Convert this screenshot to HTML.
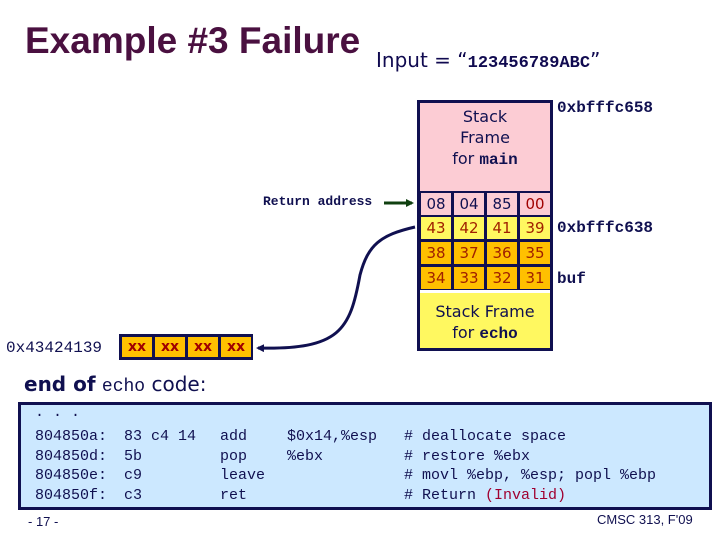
<!DOCTYPE html>
<html><head><style>
body{margin:0;width:720px;height:540px;background:#fff;position:relative;overflow:hidden;font-family:"Liberation Sans",sans-serif}
.a{position:absolute}
.mono{font-family:"Liberation Mono",monospace}
.serif{font-family:"Liberation Serif",serif}
.cell{position:absolute;width:30px;height:22px;text-align:center;font-size:15px;line-height:22px;font-family:"DejaVu Sans",sans-serif}
.cl{position:absolute;font-family:"Liberation Mono",monospace;font-size:15px;color:#101050;white-space:pre}
</style></head><body>
<div class="a" style="left:25px;top:20px;font-size:37px;font-weight:bold;color:#4a1040">Example #3 Failure</div>
<div class="a" style="left:376px;top:48px;font-size:20px;color:#100a50;font-family:'DejaVu Sans',sans-serif">Input = “<span class="mono" style="font-weight:bold;font-size:17px">123456789ABC</span>”</div>

<div class="a" style="left:417px;top:100px;width:130px;height:245px;border:3px solid #101050;background:#fff"></div>
<div class="a" style="left:420px;top:103px;width:130px;height:88px;background:#fcccd4;text-align:center;font-size:16px;line-height:21px;color:#101050;font-family:'DejaVu Sans',sans-serif;padding-top:3px;box-sizing:border-box">Stack<br>Frame<br>for <span class="mono" style="font-weight:bold">main</span></div>
<div class="a" style="left:420px;top:293px;width:130px;height:55px;background:#fff860;text-align:center;font-size:16px;line-height:21px;color:#101050;font-family:'DejaVu Sans',sans-serif;padding-top:8px;box-sizing:border-box">Stack Frame<br>for <span class="mono" style="font-weight:bold">echo</span></div>

<div id="cells"></div>
<script>
var rows=[[192,"#fcccd4",["08","04","85","00"],["#101050","#101050","#101050","#a00000"]],
[216,"#fff860",["43","42","41","39"],["#a02000","#a02000","#a02000","#a02000"]],
[241,"#ffc000",["38","37","36","35"],["#a02000","#a02000","#a02000","#a02000"]],
[266,"#ffc000",["34","33","32","31"],["#a02000","#a02000","#a02000","#a02000"]]];
var h="";
rows.forEach(function(r){h+='<div class="a" style="left:419px;top:'+(r[0]-1)+'px;width:132px;height:25px;background:#101050"></div>';
for(var i=0;i<4;i++){h+='<div class="cell" style="left:'+(421+i*33)+'px;top:'+(r[0]+1)+'px;background:'+r[1]+';color:'+r[3][i]+'">'+r[2][i]+'</div>';}});
document.getElementById("cells").innerHTML=h;
</script>

<div class="a mono" style="left:557px;top:99px;font-size:16px;font-weight:bold;color:#101050">0xbfffc658</div>
<div class="a mono" style="left:557px;top:219px;font-size:16px;font-weight:bold;color:#101050">0xbfffc638</div>
<div class="a mono" style="left:557px;top:270px;font-size:16px;font-weight:bold;color:#101050">buf</div>
<div class="a mono" style="left:263px;top:194px;font-size:13px;font-weight:bold;color:#101050">Return address</div>

<div class="a" style="left:119px;top:334px;width:134px;height:26px;background:#101050"></div>
<div id="xx"></div>
<script>
var s="";for(var i=0;i<4;i++)s+='<div class="cell mono" style="left:'+(122+i*33)+'px;top:337px;width:30px;height:20px;line-height:20px;background:#ffc000;color:#a00000;font-weight:bold;font-size:14px">xx</div>';
document.getElementById("xx").innerHTML=s;
</script>
<div class="a mono" style="left:6px;top:339px;font-size:16px;color:#101050">0x43424139</div>

<svg class="a" style="left:0;top:0" width="720" height="540">
<defs><marker id="m" markerWidth="8" markerHeight="8" refX="6" refY="4" orient="auto" markerUnits="userSpaceOnUse"><path d="M0,0L8,4L0,8z" fill="#101050"/></marker>
<marker id="g" markerWidth="8" markerHeight="8" refX="6" refY="4" orient="auto" markerUnits="userSpaceOnUse"><path d="M0,0L8,4L0,8z" fill="#104010"/></marker></defs>
<line x1="384" y1="203" x2="412" y2="203" stroke="#104010" stroke-width="3" marker-end="url(#g)"/>
<path d="M415,227 C380,235 368,245 360,275 C350,330 340,350 258,348" fill="none" stroke="#101050" stroke-width="3" marker-end="url(#m)"/>
</svg>

<div class="a" style="left:24px;top:372px;font-size:20px;color:#101050;font-family:'DejaVu Sans',sans-serif"><b>end of</b> <span class="mono" style="font-size:18px">echo</span> code:</div>

<div class="a" style="left:18px;top:402px;width:694px;height:108px;border:3px solid #101050;background:#cce8ff;box-sizing:border-box"></div>
<div class="cl" style="left:35px;top:404px">. . .</div>
<div class="cl" style="left:35px;top:427px;line-height:19.5px">804850a:
804850d:
804850e:
804850f:</div>
<div class="cl" style="left:124px;top:427px;line-height:19.5px">83 c4 14
5b
c9
c3</div>
<div class="cl" style="left:220px;top:427px;line-height:19.5px">add
pop
leave
ret</div>
<div class="cl" style="left:287px;top:427px;line-height:19.5px">$0x14,%esp
%ebx</div>
<div class="cl" style="left:404px;top:427px;line-height:19.5px"># deallocate space
# restore %ebx
# movl %ebp, %esp; popl %ebp
# Return <span style="color:#a00030">(Invalid)</span></div>

<div class="a" style="left:28px;top:514px;font-size:13px;color:#101050">- 17 -</div>
<div class="a" style="left:597px;top:512px;font-size:13px;color:#101050">CMSC 313, F'09</div>
</body></html>
